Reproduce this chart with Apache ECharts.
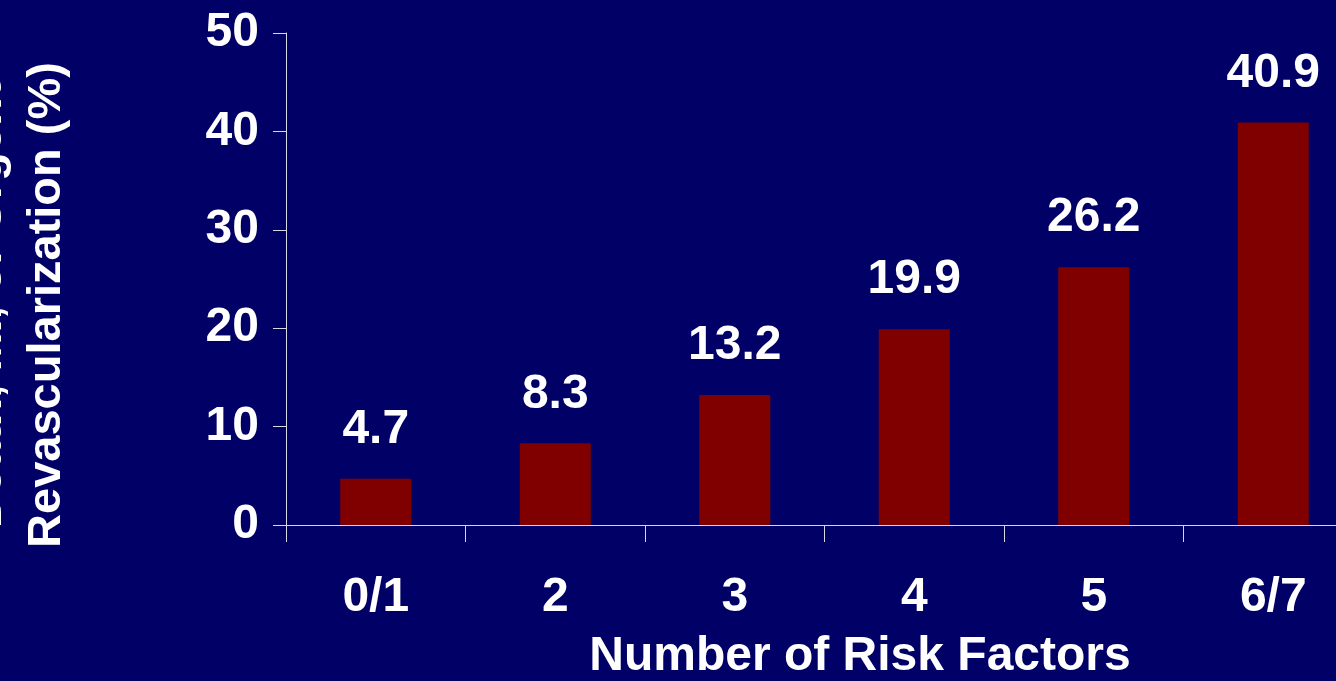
<!DOCTYPE html>
<html>
<head>
<meta charset="utf-8">
<script src="https://cdn.jsdelivr.net/npm/echarts@6/dist/echarts.min.js"></script>
<style>
html,body{margin:0;padding:0;background:#000066;overflow:hidden;width:1336px;height:681px;}
#c{width:1372px;height:681px;}
</style>
</head>
<body>
<div id="c"></div>
<script>
const categories = ['0/1', '2', '3', '4', '5', '6/7'];
const values = [4.7, 8.3, 13.2, 19.9, 26.2, 40.9];
const yTicks = [0, 10, 20, 30, 40, 50];
const yTitleLines = ['Death, MI, or Urgent', 'Revascularization (%)'];
const xTitle = 'Number of Risk Factors';

const FONT = '"Liberation Sans", Arial, sans-serif';
const AXIS_COLOR = '#d8d8e0';
const FS = 48;

const chart = echarts.init(document.getElementById('c'));
chart.setOption({
  backgroundColor: '#000066',
  animation: false,
  grid: { left: 286, top: 33, width: 1077, bottom: 156, containLabel: false },
  xAxis: {
    type: 'category',
    data: categories,
    boundaryGap: true,
    axisLine: { show: true, lineStyle: { color: AXIS_COLOR, width: 1 } },
    axisTick: { show: true, length: 17, inside: false, lineStyle: { color: AXIS_COLOR, width: 1 } },
    axisLabel: { color: '#ffffff', fontFamily: FONT, fontWeight: 'bold', fontSize: FS, margin: 49 },
    splitLine: { show: false }
  },
  yAxis: {
    type: 'value',
    min: yTicks[0],
    max: yTicks[yTicks.length - 1],
    interval: yTicks[1] - yTicks[0],
    axisLine: { show: true, lineStyle: { color: AXIS_COLOR, width: 1 } },
    axisTick: { show: true, length: 13, lineStyle: { color: AXIS_COLOR, width: 1 } },
    axisLabel: { color: '#ffffff', fontFamily: FONT, fontWeight: 'bold', fontSize: FS, margin: 27 },
    splitLine: { show: false }
  },
  graphic: [
    {
      type: 'text',
      x: 18,
      y: 305,
      rotation: Math.PI / 2,
      style: {
        text: yTitleLines.join('\n'),
        fill: '#ffffff',
        font: 'bold 47px ' + FONT,
        lineHeight: 59,
        align: 'center',
        verticalAlign: 'middle'
      }
    },
    {
      type: 'text',
      x: 860,
      y: 657,
      style: {
        text: xTitle,
        fill: '#ffffff',
        font: 'bold ' + FS + 'px ' + FONT,
        align: 'center',
        verticalAlign: 'middle'
      }
    }
  ],
  series: [{
    type: 'bar',
    data: values,
    barWidth: 71,
    itemStyle: { color: '#800000' },
    label: {
      show: true,
      position: 'top',
      distance: 25,
      color: '#ffffff',
      fontFamily: FONT,
      fontWeight: 'bold',
      fontSize: FS
    }
  }]
});
</script>
</body>
</html>
